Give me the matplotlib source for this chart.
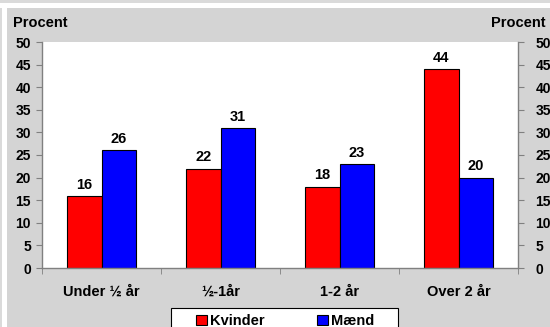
import matplotlib
matplotlib.use("Agg")
import matplotlib.pyplot as plt
from matplotlib.patches import Rectangle
import numpy as np

plt.rcParams['font.family'] = ['Liberation Sans', 'DejaVu Sans']
plt.rcParams['font.weight'] = 'bold'

categories = ["Under ½ år", "½-1år", "1-2 år", "Over 2 år"]
kvinder = [16, 22, 18, 44]
maend = [26, 31, 23, 20]
series_names = ["Kvinder", "Mænd"]
yticks = [0, 5, 10, 15, 20, 25, 30, 35, 40, 45, 50]

W, H = 550, 327
panel = "#D4D4D4"
axis_col = "#808080"

fig = plt.figure(figsize=(W / 100, H / 100), dpi=100, facecolor="white")


def px_rect(x0, y0, x1, y1, **kw):
    """Rectangle given in pixel coordinates measured from the top-left corner."""
    r = Rectangle((x0 / W, 1 - y1 / H), (x1 - x0) / W, (y1 - y0) / H,
                  transform=fig.transFigure, **kw)
    fig.add_artist(r)
    return r


# background panels
px_rect(0, 0, W, 3, facecolor="#DADADA", edgecolor="none", zorder=0)
px_rect(0, 8, 1.5, H, facecolor="#DADADA", edgecolor="none", zorder=0)
px_rect(7, 8, W, H, facecolor=panel, edgecolor="none", zorder=0)

left, right, top, bottom = 42, 518, 42, 268
ax = fig.add_axes([left / W, 1 - bottom / H, (right - left) / W, (bottom - top) / H])
ax.set_facecolor("white")

x = np.arange(len(categories))
bw = 0.29
b1 = ax.bar(x - bw / 2, kvinder, bw, color="#FF0000", edgecolor="black", linewidth=0.8,
            label=series_names[0])
b2 = ax.bar(x + bw / 2, maend, bw, color="#0000FF", edgecolor="black", linewidth=0.8,
            label=series_names[1])

for bars, vals in ((b1, kvinder), (b2, maend)):
    for rect, v in zip(bars, vals):
        ax.annotate(f"{v}", (rect.get_x() + rect.get_width() / 2, v),
                    xytext=(0, 3), textcoords="offset points",
                    ha="center", va="bottom", fontsize=10.5, fontweight="bold")

ax.set_xlim(-0.5, len(categories) - 0.5)
ax.set_ylim(0, 50)
ax.set_yticks(yticks)
ax.set_yticklabels([str(t) for t in yticks], fontsize=10, fontweight="bold")
ax.set_xticks(x)
ax.set_xticklabels(categories, fontsize=10.5, fontweight="bold")
ax.set_xticks(np.arange(-0.5, len(categories), 1.0), minor=True)
ax.tick_params(axis="x", which="major", length=0, pad=12)
ax.tick_params(axis="x", which="minor", length=4, color=axis_col, direction="out")
ax.tick_params(axis="y", length=4, color=axis_col, direction="out", pad=4)

for s in ("left", "right", "bottom"):
    ax.spines[s].set_color(axis_col)
    ax.spines[s].set_linewidth(1.0)
ax.spines["top"].set_visible(False)

ax2 = ax.twinx()
ax2.set_ylim(0, 50)
ax2.set_yticks(yticks)
ax2.set_yticklabels([str(t) for t in yticks], fontsize=10, fontweight="bold")
ax2.tick_params(axis="y", length=4, color=axis_col, direction="out", pad=8.5)
for s in ax2.spines.values():
    s.set_visible(False)

fig.text(13 / W, 1 - 23 / H, "Procent", ha="left", va="center", fontsize=10.5, fontweight="bold")
fig.text(546 / W, 1 - 23 / H, "Procent", ha="right", va="center", fontsize=10.5, fontweight="bold")

# legend box (runs past the lower edge of the figure)
px_rect(171, 308, 398, 336, facecolor="white", edgecolor="black", linewidth=0.8, zorder=4)
leg = fig.legend(handles=[b1, b2], labels=series_names, loc="center",
                 bbox_to_anchor=(285 / W, 1 - 321 / H), ncol=2, frameon=False,
                 prop={"size": 10.5, "weight": "bold"}, handlelength=0.75,
                 handleheight=0.75, handletextpad=0.2, columnspacing=3.6,
                 borderpad=0, borderaxespad=0)
leg.set_zorder(5)

fig.savefig("out.png", dpi=100, facecolor="white")
